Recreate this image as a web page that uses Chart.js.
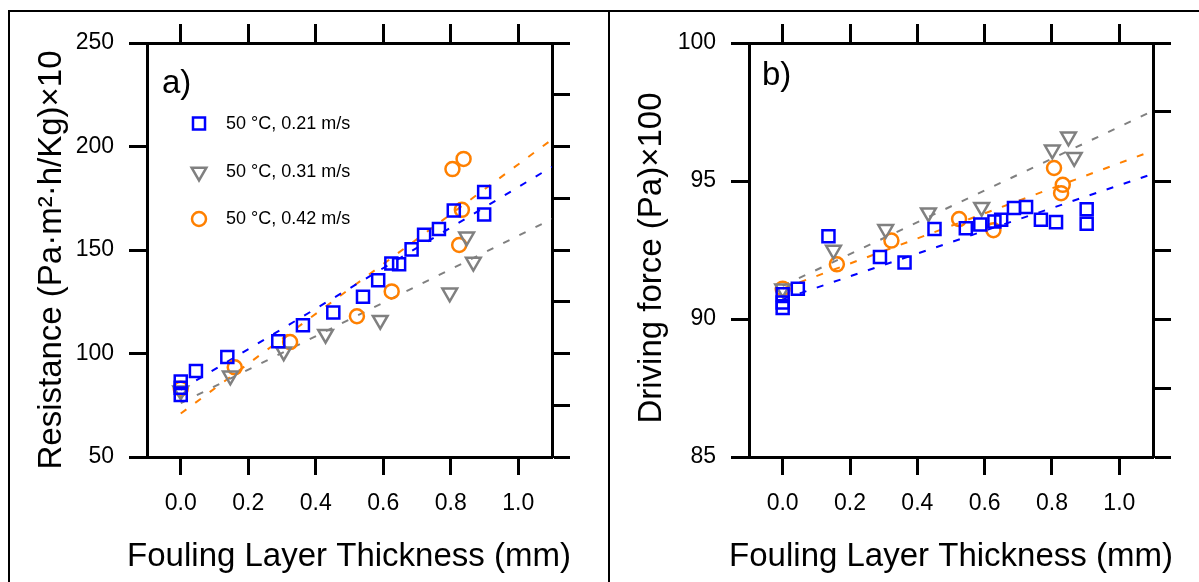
<!DOCTYPE html>
<html>
<head>
<meta charset="utf-8">
<script src="https://cdn.jsdelivr.net/npm/chart.js@4.4.1/dist/chart.umd.min.js"></script>
<style>
body{margin:0;background:#fff;}
#wrap{position:relative;width:1199px;height:582px;overflow:hidden;background:#fff;}
.ln{position:absolute;background:#000;}
canvas{position:absolute;top:0;}
</style>
</head>
<body>
<div id="wrap">
<div class="ln" style="left:8px;top:10px;width:1191px;height:2px"></div>
<div class="ln" style="left:8px;top:10px;width:2px;height:572px"></div>
<div class="ln" style="left:608px;top:10px;width:2px;height:572px"></div>
<canvas id="chartA" width="600" height="582" style="left:0"></canvas>
<canvas id="chartB" width="599" height="582" style="left:600px"></canvas>
</div>
<script>
const FONT = '"Liberation Sans", Arial, sans-serif';

// fouling layer thickness axis (mm)
const xTicks = [0, 0.2, 0.4, 0.6, 0.8, 1.0];
const fitX = [0, 1.1];

// a) resistance (Pa.m2.h/Kg) x10
const resTicks = [50, 100, 150, 200, 250];
const resMinor = [50, 75, 100, 125, 150, 175, 200, 225, 250];
const thickA21 = [0, 0, 0, 0.045, 0.138, 0.289, 0.362, 0.452, 0.540, 0.585, 0.624, 0.647, 0.684, 0.721, 0.765, 0.809, 0.899, 0.899];
const resA21 = [86.5, 83.5, 80, 91.5, 98.3, 105.9, 113.6, 119.8, 127.4, 135.4, 143.5, 143.1, 150.3, 157.4, 160.1, 169.1, 178.0, 167.1];
const thickA31 = [0, 0.147, 0.305, 0.429, 0.591, 0.797, 0.847, 0.867];
const resA31 = [82, 89.2, 100.9, 109.3, 116.1, 129.3, 156.4, 144.2];
const thickA42 = [0, 0.160, 0.324, 0.522, 0.625, 0.805, 0.838, 0.833, 0.825];
const resA42 = [83, 93.3, 105.5, 118, 130, 189.1, 194, 169.4, 152.4];
const resFit21 = [82.5, 190.2];
const resFit31 = [76, 165];
const resFit42 = [71, 203.4];

// b) driving force (Pa) x100
const dfTicks = [85, 90, 95, 100];
const dfMinor = [85, 87.5, 90, 92.5, 95, 97.5, 100];
const thickB21 = [0, 0, 0, 0.045, 0.136, 0.289, 0.362, 0.451, 0.544, 0.587, 0.629, 0.649, 0.687, 0.723, 0.767, 0.812, 0.903, 0.903];
const dfB21 = [90.9, 90.6, 90.4, 91.1, 93.0, 92.25, 92.05, 93.26, 93.29, 93.42, 93.53, 93.6, 94.02, 94.06, 93.6, 93.51, 93.98, 93.45];
const thickB31 = [0, 0.151, 0.306, 0.433, 0.591, 0.801, 0.849, 0.866];
const dfB31 = [91.1, 92.5, 93.25, 93.85, 94.05, 96.13, 96.6, 95.86];
const thickB42 = [0, 0.161, 0.323, 0.524, 0.626, 0.806, 0.832, 0.827];
const dfB42 = [91.1, 91.98, 92.84, 93.62, 93.22, 95.47, 94.86, 94.56];
const dfFit21 = [90.72, 95.26];
const dfFit31 = [91.2, 97.54];
const dfFit42 = [91.1, 96.1];

const seriesNames = ['50 °C, 0.21 m/s', '50 °C, 0.31 m/s', '50 °C, 0.42 m/s'];
const colors = ['#0000ff', '#808080', '#ff8000'];
const markers = [
  {pointStyle: 'rect', radius: 8.5, rotation: 0},
  {pointStyle: 'triangle', radius: 8.5, rotation: 180},
  {pointStyle: 'circle', radius: 7, rotation: 0}
];

function pts(xs, ys){
  return xs.map((x, i) => ({x: x, y: ys[i]}));
}

function textPlugin(p){
  return {
    id: 'texts',
    afterDraw(chart){
      const ctx = chart.ctx;
      ctx.save();
      ctx.fillStyle = '#000';
      ctx.font = '33px ' + FONT;
      // y title
      ctx.save();
      ctx.translate(p.yTitleX, p.yTitleY);
      ctx.rotate(-Math.PI / 2);
      ctx.textAlign = 'center';
      ctx.textBaseline = 'alphabetic';
      ctx.fillText(p.yTitle, 0, 0);
      ctx.restore();
      // x title
      ctx.textAlign = 'center';
      ctx.textBaseline = 'alphabetic';
      ctx.fillText('Fouling Layer Thickness (mm)', p.xTitleX, 566);
      // panel tag
      ctx.textAlign = 'left';
      ctx.fillText(p.tag, p.tagX, p.tagY);
      // legend
      if(p.legend){
        ctx.font = '18px ' + FONT;
        ctx.textBaseline = 'middle';
        seriesNames.forEach((name, i) => {
          const y = p.legendY[i];
          ctx.strokeStyle = colors[i];
          ctx.fillStyle = 'rgba(0,0,0,0)';
          ctx.lineWidth = 2.5;
          Chart.helpers.drawPoint(ctx, {
            pointStyle: markers[i].pointStyle,
            radius: markers[i].radius,
            rotation: markers[i].rotation,
            borderWidth: 2.5
          }, 199, y);
          ctx.fillStyle = '#000';
          ctx.fillText(name, 226, y);
        });
      }
      ctx.restore();
    }
  };
}

function makeChart(id, p){
  const datasets = [];
  p.series.forEach((s, i) => {
    datasets.push({
      type: 'scatter',
      data: pts(s[0], s[1]),
      pointStyle: markers[i].pointStyle,
      pointRadius: markers[i].radius,
      pointRotation: markers[i].rotation,
      pointBorderColor: colors[i],
      pointBackgroundColor: 'rgba(0,0,0,0)',
      pointBorderWidth: 2.5,
      showLine: false,
      order: 1
    });
  });
  p.fits.forEach((f, i) => {
    datasets.push({
      type: 'line',
      data: pts(fitX, f),
      borderColor: colors[i],
      borderWidth: 2,
      borderDash: [7, 11],
      pointRadius: 0,
      fill: false,
      order: 2
    });
  });

  const grid = len => ({drawOnChartArea: false, drawTicks: true, tickLength: len, tickWidth: 3, tickColor: '#000'});
  const border = {display: true, width: 3, color: '#000'};
  const tickFont = {family: FONT, size: 23};

  new Chart(document.getElementById(id), {
    data: {datasets: datasets},
    options: {
      responsive: false,
      animation: false,
      events: [],
      layout: {padding: 0},
      plugins: {legend: {display: false}, tooltip: {enabled: false}},
      scales: {
        x: {
          type: 'linear', position: 'bottom', min: -0.1, max: 1.1,
          grid: grid(18), border: border,
          ticks: {color: '#000', font: tickFont, padding: 15, autoSkip: false, maxRotation: 0,
                  callback: v => Number(v).toFixed(1)},
          afterBuildTicks: s => { s.ticks = xTicks.map(v => ({value: v})); },
          afterFit: s => { s.height = p.canvasH - p.bottom; }
        },
        x2: {
          type: 'linear', axis: 'x', position: 'top', min: -0.1, max: 1.1,
          grid: grid(19), border: border,
          ticks: {display: false},
          afterBuildTicks: s => { s.ticks = xTicks.map(v => ({value: v})); },
          afterFit: s => { s.height = p.top; }
        },
        y: {
          type: 'linear', position: 'left', min: p.yMin, max: p.yMax,
          grid: grid(18), border: border,
          ticks: {color: '#000', font: tickFont, padding: 15, autoSkip: false,
                  callback: v => String(v)},
          afterBuildTicks: s => { s.ticks = p.yTicks.map(v => ({value: v})); },
          afterFit: s => { s.width = p.left; }
        },
        y2: {
          type: 'linear', axis: 'y', position: 'right', min: p.yMin, max: p.yMax,
          grid: grid(18), border: border,
          ticks: {display: false},
          afterBuildTicks: s => { s.ticks = p.yMinor.map(v => ({value: v})); },
          afterFit: s => { s.width = p.canvasW - p.right; }
        }
      }
    },
    plugins: [textPlugin(p)]
  });
}

makeChart('chartA', {
  canvasW: 600, canvasH: 582, left: 147, right: 552, top: 43, bottom: 457,
  yMin: 50, yMax: 250, yTicks: resTicks, yMinor: resMinor,
  series: [[thickA21, resA21], [thickA31, resA31], [thickA42, resA42]],
  fits: [resFit21, resFit31, resFit42],
  yTitle: 'Resistance (Pa·m²·h/Kg)×10', yTitleX: 61, yTitleY: 260,
  xTitleX: 349, tag: 'a)', tagX: 162, tagY: 93,
  legend: true, legendY: [123.6, 171.9, 219]
});

makeChart('chartB', {
  canvasW: 599, canvasH: 582, left: 149, right: 553, top: 43, bottom: 457,
  yMin: 85, yMax: 100, yTicks: dfTicks, yMinor: dfMinor,
  series: [[thickB21, dfB21], [thickB31, dfB31], [thickB42, dfB42]],
  fits: [dfFit21, dfFit31, dfFit42],
  yTitle: 'Driving force (Pa)×100', yTitleX: 61, yTitleY: 258,
  xTitleX: 351, tag: 'b)', tagX: 162, tagY: 84.5,
  legend: false
});
</script>
</body>
</html>
